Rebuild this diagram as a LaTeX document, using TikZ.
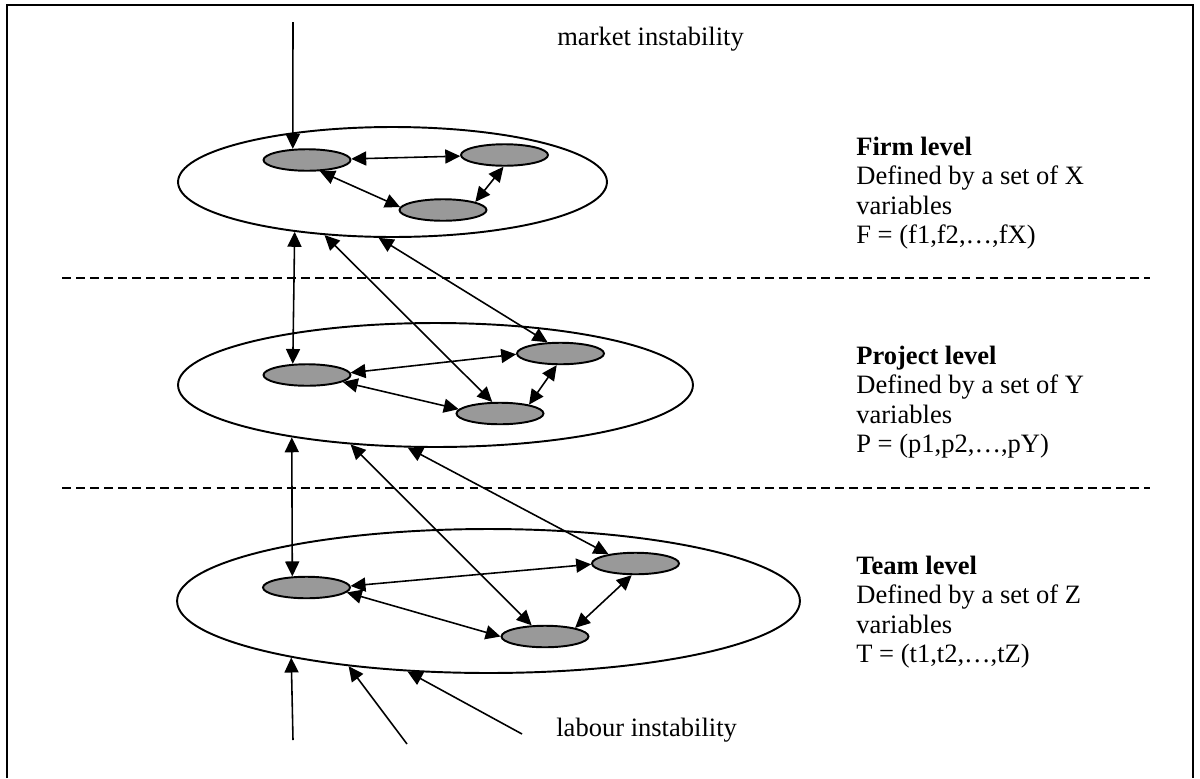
\documentclass[tikz,border=0pt]{standalone}
\usepackage{fontspec}
\setmainfont{Liberation Serif}
\usetikzlibrary{arrows.meta,shapes.geometric}
\definecolor{varfill}{RGB}{153,153,153}
\begin{document}
\begin{tikzpicture}[x=0.02cm,y=-0.02cm,
  big/.style={draw, ellipse, line width=1.1pt, inner sep=0pt},
  var/.style={draw, ellipse, line width=1.1pt, fill=varfill, inner sep=0pt, minimum width=1.74cm, minimum height=0.43cm},
  link/.style={line width=0.9pt, {Triangle[length=8.5pt,width=8pt]}-{Triangle[length=8.5pt,width=8pt]}},
  feed/.style={line width=0.9pt, -{Triangle[length=8.5pt,width=8pt]}},
  sepline/.style={line width=0.9pt, dash pattern=on 5pt off 3pt},
  lbl/.style={font=\fontsize{15.1pt}{17pt}\selectfont, inner sep=0pt, anchor=base west},
  ttl/.style={lbl, font=\fontsize{15.1pt}{17pt}\selectfont\bfseries}]
\useasboundingbox (0,0) rectangle (1200,778);
% frame
\draw[line width=1.1pt] (7,778) -- (7,5) -- (1193,5) -- (1193,778);
% separators
\draw[sepline] (62,278) -- (1150,278);
\draw[sepline] (62,488) -- (1150,488);
% level ellipses
\node[big, minimum width=8.58cm, minimum height=2.2cm] (fE) at (392.5,182) {};
\node[big, minimum width=10.3cm, minimum height=2.48cm] (pE) at (435.5,385) {};
\node[big, minimum width=12.46cm, minimum height=2.88cm] (tE) at (488.5,601) {};
% variables
\node[var] (fL) at (307,160) {};
\node[var] (fR) at (504.5,155) {};
\node[var] (fB) at (443,210) {};
\node[var] (pL) at (307,375) {};
\node[var] (pR) at (560.5,353.5) {};
\node[var] (pB) at (500,413.5) {};
\node[var] (tL) at (306.5,587.5) {};
\node[var] (tR) at (635.5,563.5) {};
\node[var] (tB) at (545,636.5) {};
% free ends
\coordinate (mkt) at (293,22);
\coordinate (lab1) at (293,740);
\coordinate (lab2) at (407,744);
\coordinate (lab3) at (522,734);
% connectors
\draw[feed] (mkt) -- (fL.142);
\draw[link] (fL) -- (fR);
\draw[link] (fL.-41) -- (fB.176);
\draw[link] (fR.-95) -- (fB.14);
\draw[link] (fE.-153.9) -- (pL.142);
\draw[link] (fE.-142.3) -- (pB.124.8);
\draw[link] (fE.-104.8) -- (pR.139.6);
\draw[link] (pL.3.7) -- (pR.181.8);
\draw[link] (pL.-11.3) -- (pB.174.9);
\draw[link] (pR.-108.4) -- (pB.17.5);
\draw[link] (pE.-160.1) -- (tL.142);
\draw[link] (pE.-145.6) -- (tB.140.2);
\draw[link] (pE.-114.1) -- (tR.161.6);
\draw[link] (tL.2.8) -- (tR.181.7);
\draw[link] (tL.-7.2) -- (tB.180.6);
\draw[link] (tR.-108.4) -- (tB.16.5);
\draw[feed] (lab1) -- (tE.-164);
\draw[feed] (lab2) -- (tE.-155);
\draw[feed] (lab3) -- (tE.-139.2);
% texts
\node[lbl] (mkT) at (557,45) {market instability};
\node[lbl] (lbT) at (556,736) {labour instability};
\node[ttl] (f1) at (856,155) {Firm level};
\node[lbl] (f2) at (856,184.5) {Defined by a set of X};
\node[lbl] (f3) at (856,214) {variables};
\node[lbl] (f4) at (856,243.5) {F = (f1,f2,…,fX)};
\node[ttl] (p1) at (856,364) {Project level};
\node[lbl] (p2) at (856,393.5) {Defined by a set of Y};
\node[lbl] (p3) at (856,423) {variables};
\node[lbl] (p4) at (856,452.5) {P = (p1,p2,…,pY)};
\node[ttl] (t1) at (856,574) {Team level};
\node[lbl] (t2) at (856,603.5) {Defined by a set of Z};
\node[lbl] (t3) at (856,633) {variables};
\node[lbl] (t4) at (856,662.5) {T = (t1,t2,…,tZ)};
\end{tikzpicture}
\end{document}
